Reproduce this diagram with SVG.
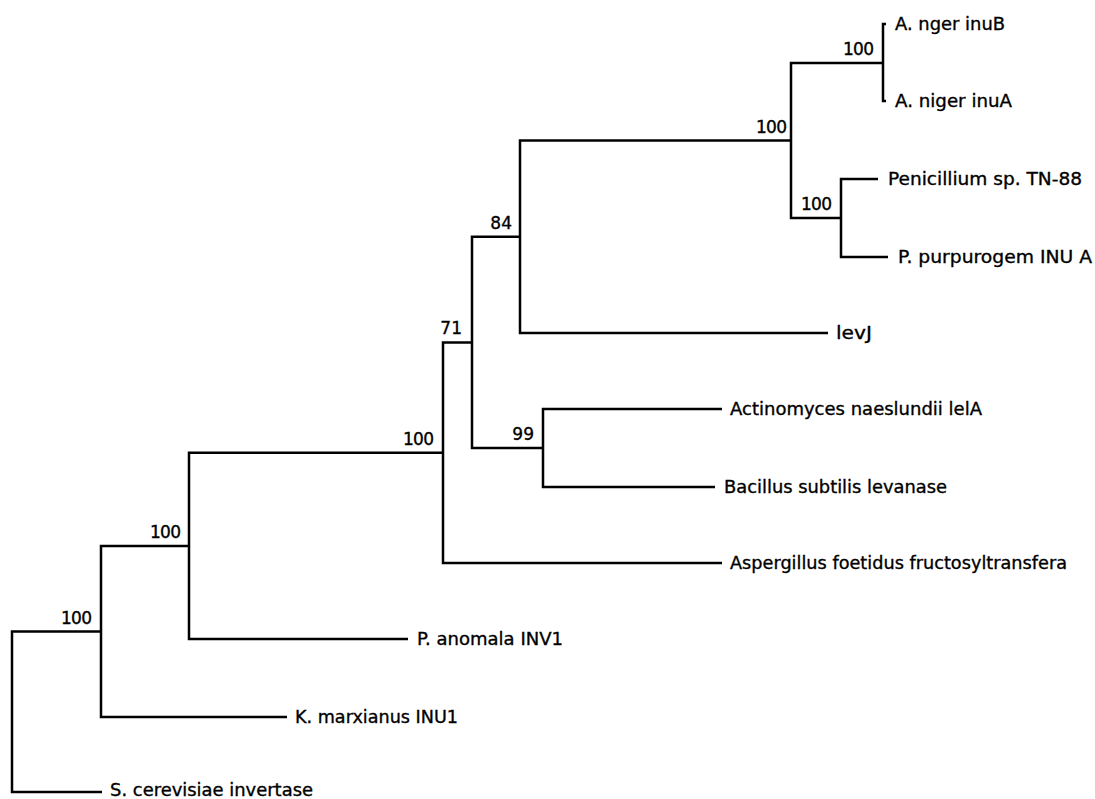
<svg xmlns="http://www.w3.org/2000/svg" width="1095" height="799" viewBox="0 0 1095 799">
<style>
.e{fill:none;stroke:#000;stroke-width:2.5;stroke-linejoin:miter;stroke-linecap:butt}
.lf{font-family:"DejaVu Sans","Liberation Sans",sans-serif;font-size:18px;fill:#000;stroke:#000;stroke-width:0.35}
.bs{font-family:"DejaVu Sans","Liberation Sans",sans-serif;font-size:17px;fill:#000;stroke:#000;stroke-width:0.35;text-anchor:end}
</style>
<rect width="1095" height="799" fill="#fff"/>
<g id="connectors">
<path class="e" d="M101 631.4H12V792H102"/>
<path class="e" d="M189 545.9H101V717H287"/>
<path class="e" d="M443 452.7H189V639H408"/>
<path class="e" d="M472 342.4H443V563H722"/>
<path class="e" d="M520 236.8H472V448H543"/>
<path class="e" d="M791 140.5H520V333H828"/>
<path class="e" d="M722 409H543V487H715"/>
<path class="e" d="M883 63H791V218H841"/>
<path class="e" d="M886 24H883V101H886"/>
<path class="e" d="M878 179H841V257H888"/>
</g>
<g id="n-root"/>
<g id="n-I"><text class="bs" x="92" y="624" textLength="31">100</text></g>
<g id="n-H"><text class="bs" x="181" y="538" textLength="31">100</text></g>
<g id="n-G"><text class="bs" x="434" y="445" textLength="31">100</text></g>
<g id="n-F"><text class="bs" x="462" y="334">71</text></g>
<g id="n-D"><text class="bs" x="512" y="229">84</text></g>
<g id="n-E"><text class="bs" x="534" y="440">99</text></g>
<g id="n-C"><text class="bs" x="787" y="133" textLength="31">100</text></g>
<g id="n-A"><text class="bs" x="874" y="55" textLength="31">100</text></g>
<g id="n-B"><text class="bs" x="832" y="210" textLength="31">100</text></g>
<g id="leaf-inuB"><text class="lf" x="895" y="30" textLength="110" lengthAdjust="spacingAndGlyphs">A. nger inuB</text></g>
<g id="leaf-inuA"><text class="lf" x="895" y="107" textLength="117" lengthAdjust="spacingAndGlyphs">A. niger inuA</text></g>
<g id="leaf-pen"><text class="lf" x="888" y="185" textLength="194" lengthAdjust="spacingAndGlyphs">Penicillium sp. TN-88</text></g>
<g id="leaf-ppur"><text class="lf" x="898" y="263" textLength="194" lengthAdjust="spacingAndGlyphs">P. purpurogem INU A</text></g>
<g id="leaf-levJ"><text class="lf" x="836" y="339" textLength="36" lengthAdjust="spacingAndGlyphs">levJ</text></g>
<g id="leaf-act"><text class="lf" x="730" y="415" textLength="252" lengthAdjust="spacingAndGlyphs">Actinomyces naeslundii lelA</text></g>
<g id="leaf-bac"><text class="lf" x="724" y="493" textLength="223" lengthAdjust="spacingAndGlyphs">Bacillus subtilis levanase</text></g>
<g id="leaf-asp"><text class="lf" x="730" y="569" textLength="337" lengthAdjust="spacingAndGlyphs">Aspergillus foetidus fructosyltransfera</text></g>
<g id="leaf-pano"><text class="lf" x="417" y="645" textLength="146" lengthAdjust="spacingAndGlyphs">P. anomala INV1</text></g>
<g id="leaf-kmar"><text class="lf" x="295" y="723" textLength="163" lengthAdjust="spacingAndGlyphs">K. marxianus INU1</text></g>
<g id="leaf-scer"><text class="lf" x="110" y="796" textLength="203" lengthAdjust="spacingAndGlyphs">S. cerevisiae invertase</text></g>
</svg>
